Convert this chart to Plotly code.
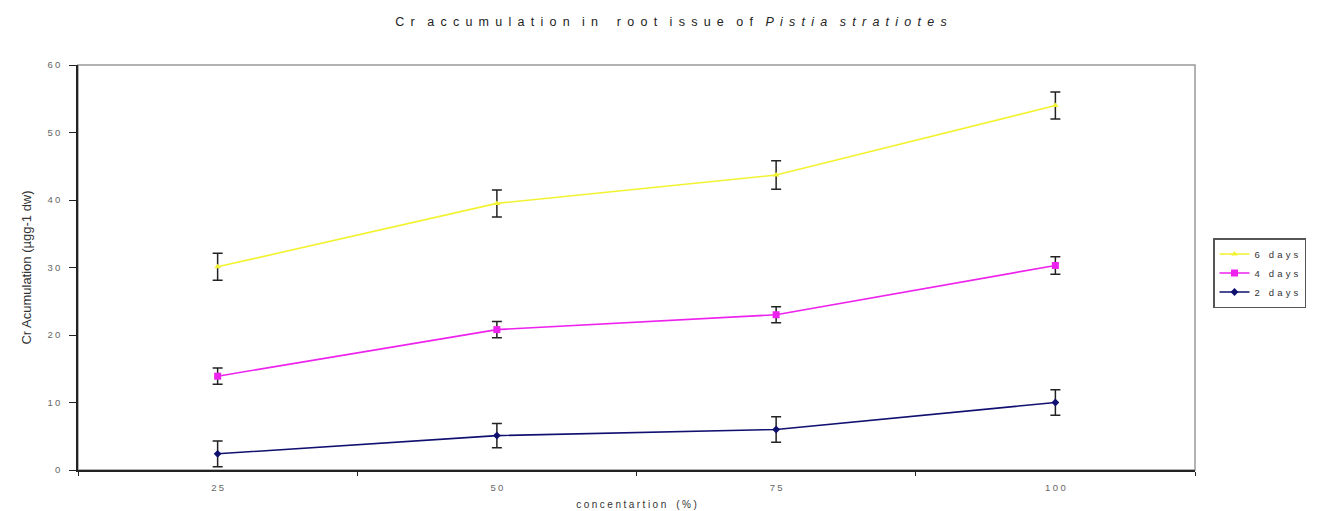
import plotly.graph_objects as go

categories = ["25", "50", "75", "100"]
days6 = [30.1, 39.5, 43.7, 54.0]
days6_err = [2.0, 2.0, 2.1, 2.0]
days4 = [13.9, 20.8, 23.0, 30.3]
days4_err = [1.2, 1.2, 1.2, 1.3]
days2 = [2.4, 5.1, 6.0, 10.0]
days2_err = [1.9, 1.8, 1.9, 1.9]
y_ticks = [0, 10, 20, 30, 40, 50, 60]

series = [
    ("6 days", days6, days6_err, "#F2F230", "triangle-up", 6),
    ("4 days", days4, days4_err, "#EE22EE", "square", 7),
    ("2 days", days2, days2_err, "#101070", "diamond", 6),
]


def spaced(s, sep="\u2002"):
    return sep.join(s)


W, H = 1325, 511
OFF = 8  # page body margin

fig = go.Figure()
for name, vals, err, col, sym, sz in series:
    fig.add_trace(go.Scatter(
        x=categories, y=vals, name=spaced(name, "\u2004"), mode="lines+markers",
        line=dict(color=col, width=1.6),
        marker=dict(color=col, symbol=sym, size=sz),
        error_y=dict(type="data", array=err, visible=True, color="#222222",
                     thickness=1.5, width=5),
    ))

fig.add_shape(type="rect", xref="paper", yref="paper", x0=0, x1=1, y0=0, y1=1,
              line=dict(color="#999999", width=1.5), layer="below")

title_txt = (spaced("Cr") + "\u2002\u2002" + spaced("accumulation") + "\u2002\u2002" + spaced("in")
             + "\u2002\u2002\u2002" + spaced("root") + "\u2002\u2002" + spaced("issue") + "\u2002\u2002"
             + spaced("of") + "\u2002\u2002<i>" + spaced("Pistia") + "\u2002\u2002" + spaced("stratiotes") + "</i>")
xtitle_txt = spaced("concentartion", "\u2005") + "\u2002\u2002" + spaced("(%)", "\u2005")

l, r, t, b = 78 - OFF, W - 1195 + OFF, 65 - OFF, H - 470 + OFF

fig.update_layout(
    width=W, height=H,
    margin=dict(l=l, r=r, t=t, b=b, autoexpand=False),
    paper_bgcolor="white", plot_bgcolor="white",
    font=dict(family="Liberation Sans, Arial, sans-serif", size=9, color="#444444"),
    title=dict(text=title_txt,
               x=(671 - 78) / 1117, xref="paper", xanchor="center",
               y=1 - (22 - OFF) / H, yanchor="middle",
               font=dict(size=12.5, color="#222222")),
    xaxis=dict(type="category", range=[-0.5, 3.5], tickson="boundaries", ticks="outside", ticklen=4,
               tickcolor="#222222", showline=True, linecolor="#222222", linewidth=1.5,
               showgrid=False, zeroline=False, ticklabelstandoff=8,
               tickvals=categories, ticktext=[spaced(c, "\u2005") for c in categories],
               title=dict(text=xtitle_txt, standoff=9,
                          font=dict(size=10, color="#333333")),
               tickfont=dict(size=9.5, color="#666666")),
    yaxis=dict(range=[0, 60], tickvals=y_ticks, ticktext=[spaced(str(v), "\u2005") for v in y_ticks],
               ticks="outside", ticklen=7, ticklabelstandoff=7,
               tickcolor="#222222", showline=True, linecolor="#222222", linewidth=1.5,
               showgrid=False, zeroline=False,
               title=dict(text="Cr Acumulation (µgg-1 dw)", standoff=13,
                          font=dict(family="Liberation Sans Narrow, Arial Narrow, sans-serif",
                                    size=13, color="#333333")),
               tickfont=dict(size=9.5, color="#666666")),
    legend=dict(xref="container", yref="container", x=(1213 - OFF) / W, y=1 - (238 - OFF) / H,
                xanchor="left", yanchor="top", bordercolor="#555555", borderwidth=1.5,
                bgcolor="white", font=dict(size=9.5, color="#333333"),
                tracegroupgap=0, itemwidth=30),
    showlegend=True,
)

fig.write_html("out.html")
